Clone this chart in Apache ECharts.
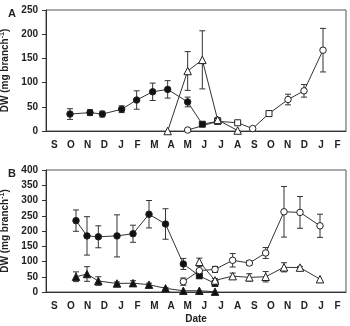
<!DOCTYPE html>
<html>
<head>
<meta charset="utf-8">
<script src="https://cdn.jsdelivr.net/npm/echarts@6/dist/echarts.min.js"></script>
<style>
  html, body { margin: 0; padding: 0; background: #fff; }
  #chart { width: 350px; height: 326px; }
</style>
</head>
<body>
<div id="chart"></div>
<script>
// month labels, S of year 1 .. F of year 3 (x value = months since start of S)
const months = ['S', 'O', 'N', 'D', 'J', 'F', 'M', 'A', 'M', 'J', 'J', 'A', 'S', 'O', 'N', 'D', 'J', 'F'];
const yTicksA = [0, 250, 50]; // min, max, step
const yTicksB = [0, 400, 50];

// panel A
const aFilledX = [1.44, 2.64, 3.38, 4.54, 5.44, 6.40, 7.30, 8.50, 9.38, 10.30];
const aFilledY = [35, 38, 35, 45, 64, 81, 86, 60, 14, 20];
const aFilledErr = [11, 6, 6, 7, 19, 18, 18, 10, 3, 4];

const aOpenX = [8.50, 10.30, 11.50, 12.40, 13.38, 14.52, 15.48, 16.62];
const aOpenY = [2, 20, 17, 5, 36, 65, 83, 167];
const aOpenErr = [0, 4, 3, 0, 3, 11, 13, 45];

const aTriX = [7.30, 8.50, 9.38, 10.30, 11.50];
const aTriY = [0, 124, 147, 23, 1];
const aTriErr = [0, 40, 60, 5, 0];

// panel B
const bCircX = [1.80, 2.46, 3.14, 4.26, 5.22, 6.18, 7.17, 8.24, 9.20, 10.14];
const bCircY = [234, 184, 181, 184, 191, 255, 223, 92, 53, 28];
const bCircErr = [35, 63, 36, 69, 28, 45, 50, 18, 6, 6];

const bTriX = [1.80, 2.46, 3.14, 4.26, 5.22, 6.18, 7.17, 8.24, 9.20, 10.14];
const bTriY = [50, 59, 36, 28, 29, 24, 12, 4, 4, 1];
const bTriErr = [16, 24, 14, 5, 8, 5, 3, 0, 0, 0];

const bOpenX = [8.24, 9.20, 10.14, 11.20, 12.20, 13.18, 14.28, 15.24, 16.44];
const bOpenY = [34, 70, 74, 104, 95, 128, 263, 261, 217];
const bOpenErr = [12, 14, 10, 22, 8, 18, 83, 52, 38];

const bOTriX = [9.20, 10.14, 11.20, 12.20, 13.18, 14.28, 15.24, 16.44];
const bOTriY = [99, 38, 52, 48, 50, 81, 80, 42];
const bOTriErr = [12, 6, 10, 12, 17, 15, 4, 0];

// marker per point: c = circle, s = square, t = triangle; upper case = filled
const aFilledMarks = 'CCCCCCCCSs';
const aOpenMarks = 'csscsccc';
const aTriMarks = 'ttttt';
const bCircMarks = 'CCCCCCCCSS';
const bTriMarks = 'TTTTTTTTTT';
const bOpenMarks = 'ccccccccc';
const bOTriMarks = 'tttttttt';

const FONT = '"Liberation Sans", Arial, sans-serif';
const INK = '#222';

const shapeOf = { c: 'circle', s: 'rect', t: 'triangle' };
const sizeOf = { c: 6.5, s: 6, t: 7.5 };

function points(xs, ys, marks) {
  return xs.map((x, i) => {
    const m = marks[i];
    const k = m.toLowerCase();
    const filled = m !== k;
    return {
      value: [x, ys[i]],
      symbol: shapeOf[k],
      symbolSize: sizeOf[k],
      itemStyle: { color: filled ? '#111' : '#fff', borderColor: INK, borderWidth: 1 }
    };
  });
}

function lineSeries(panel, xs, ys, marks) {
  return {
    type: 'line',
    xAxisIndex: panel * 2 + 1,
    yAxisIndex: panel,
    data: points(xs, ys, marks),
    lineStyle: { color: '#333', width: 1 },
    z: 3
  };
}

function errSeries(panel, xs, ys, errs) {
  const data = [];
  xs.forEach((x, i) => {
    if (errs[i] > 0) data.push([x, Math.max(0, ys[i] - errs[i]), ys[i] + errs[i]]);
  });
  return {
    type: 'custom',
    xAxisIndex: panel * 2 + 1,
    yAxisIndex: panel,
    data: data,
    z: 2,
    silent: true,
    renderItem: (params, api) => {
      const lo = api.coord([api.value(0), api.value(1)]);
      const hi = api.coord([api.value(0), api.value(2)]);
      const w = 3;
      const st = { stroke: '#333', lineWidth: 1 };
      return {
        type: 'group',
        children: [
          { type: 'line', shape: { x1: lo[0], y1: lo[1], x2: hi[0], y2: hi[1] }, style: st },
          { type: 'line', shape: { x1: lo[0] - w, y1: lo[1], x2: lo[0] + w, y2: lo[1] }, style: st },
          { type: 'line', shape: { x1: hi[0] - w, y1: hi[1], x2: hi[0] + w, y2: hi[1] }, style: st }
        ]
      };
    }
  };
}

const grids = [
  { left: 46, top: 10, width: 300, height: 121 },
  { left: 46, top: 170, width: 300, height: 122 }
];

const labelStyle = { fontFamily: FONT, fontWeight: 'bold', fontSize: 10, color: INK };

function monthAxis(panel) {
  const ax = {
    type: 'category',
    gridIndex: panel,
    data: months,
    boundaryGap: true,
    axisLine: { lineStyle: { color: '#333', width: 1 } },
    axisTick: { length: 4, lineStyle: { color: '#333' } },
    axisLabel: Object.assign({ margin: 9, interval: 0 }, labelStyle)
  };
  if (panel === 1) {
    ax.name = 'Date';
    ax.nameLocation = 'middle';
    ax.nameGap = 22;
    ax.nameTextStyle = labelStyle;
  }
  return ax;
}

function valueXAxis(panel) {
  return { type: 'value', gridIndex: panel, min: 0, max: months.length, show: false };
}

function yAxis(panel, ticks) {
  return {
    type: 'value',
    gridIndex: panel,
    min: ticks[0],
    max: ticks[1],
    interval: ticks[2],
    splitLine: { show: false },
    axisLine: { show: true, lineStyle: { color: '#333', width: 1 } },
    axisTick: { show: true, length: 4, lineStyle: { color: '#333' } },
    axisLabel: Object.assign({ margin: 8 }, labelStyle),
    name: '{t|DW (mg branch}{s|-1}{t|)}',
    nameLocation: 'middle',
    nameGap: 30,
    nameRotate: 90,
    nameTextStyle: {
      rich: {
        t: { fontFamily: FONT, fontWeight: 'bold', fontSize: 10, color: INK, lineHeight: 14 },
        s: { fontFamily: FONT, fontWeight: 'bold', fontSize: 7, color: INK, lineHeight: 8, verticalAlign: 'top' }
      }
    }
  };
}

const option = {
  animation: false,
  backgroundColor: '#fff',
  title: [
    { text: 'A', left: 3, top: 3, textStyle: { fontFamily: FONT, fontWeight: 'bold', fontSize: 11, color: INK } },
    { text: 'B', left: 3, top: 163, textStyle: { fontFamily: FONT, fontWeight: 'bold', fontSize: 11, color: INK } }
  ],
  grid: grids.map(g => Object.assign({
    show: true, borderColor: '#555', borderWidth: 1, backgroundColor: 'transparent',
    containLabel: false, outerBoundsMode: 'none'
  }, g)),
  xAxis: [monthAxis(0), valueXAxis(0), monthAxis(1), valueXAxis(1)],
  yAxis: [yAxis(0, yTicksA), yAxis(1, yTicksB)],
  series: [
    errSeries(0, aFilledX, aFilledY, aFilledErr),
    errSeries(0, aOpenX, aOpenY, aOpenErr),
    errSeries(0, aTriX, aTriY, aTriErr),
    lineSeries(0, aFilledX, aFilledY, aFilledMarks),
    lineSeries(0, aOpenX, aOpenY, aOpenMarks),
    lineSeries(0, aTriX, aTriY, aTriMarks),

    errSeries(1, bCircX, bCircY, bCircErr),
    errSeries(1, bTriX, bTriY, bTriErr),
    errSeries(1, bOpenX, bOpenY, bOpenErr),
    errSeries(1, bOTriX, bOTriY, bOTriErr),
    lineSeries(1, bCircX, bCircY, bCircMarks),
    lineSeries(1, bTriX, bTriY, bTriMarks),
    lineSeries(1, bOpenX, bOpenY, bOpenMarks),
    lineSeries(1, bOTriX, bOTriY, bOTriMarks)
  ]
};

const chart = echarts.init(document.getElementById('chart'), null, { renderer: 'canvas' });
chart.setOption(option);
</script>
</body>
</html>
